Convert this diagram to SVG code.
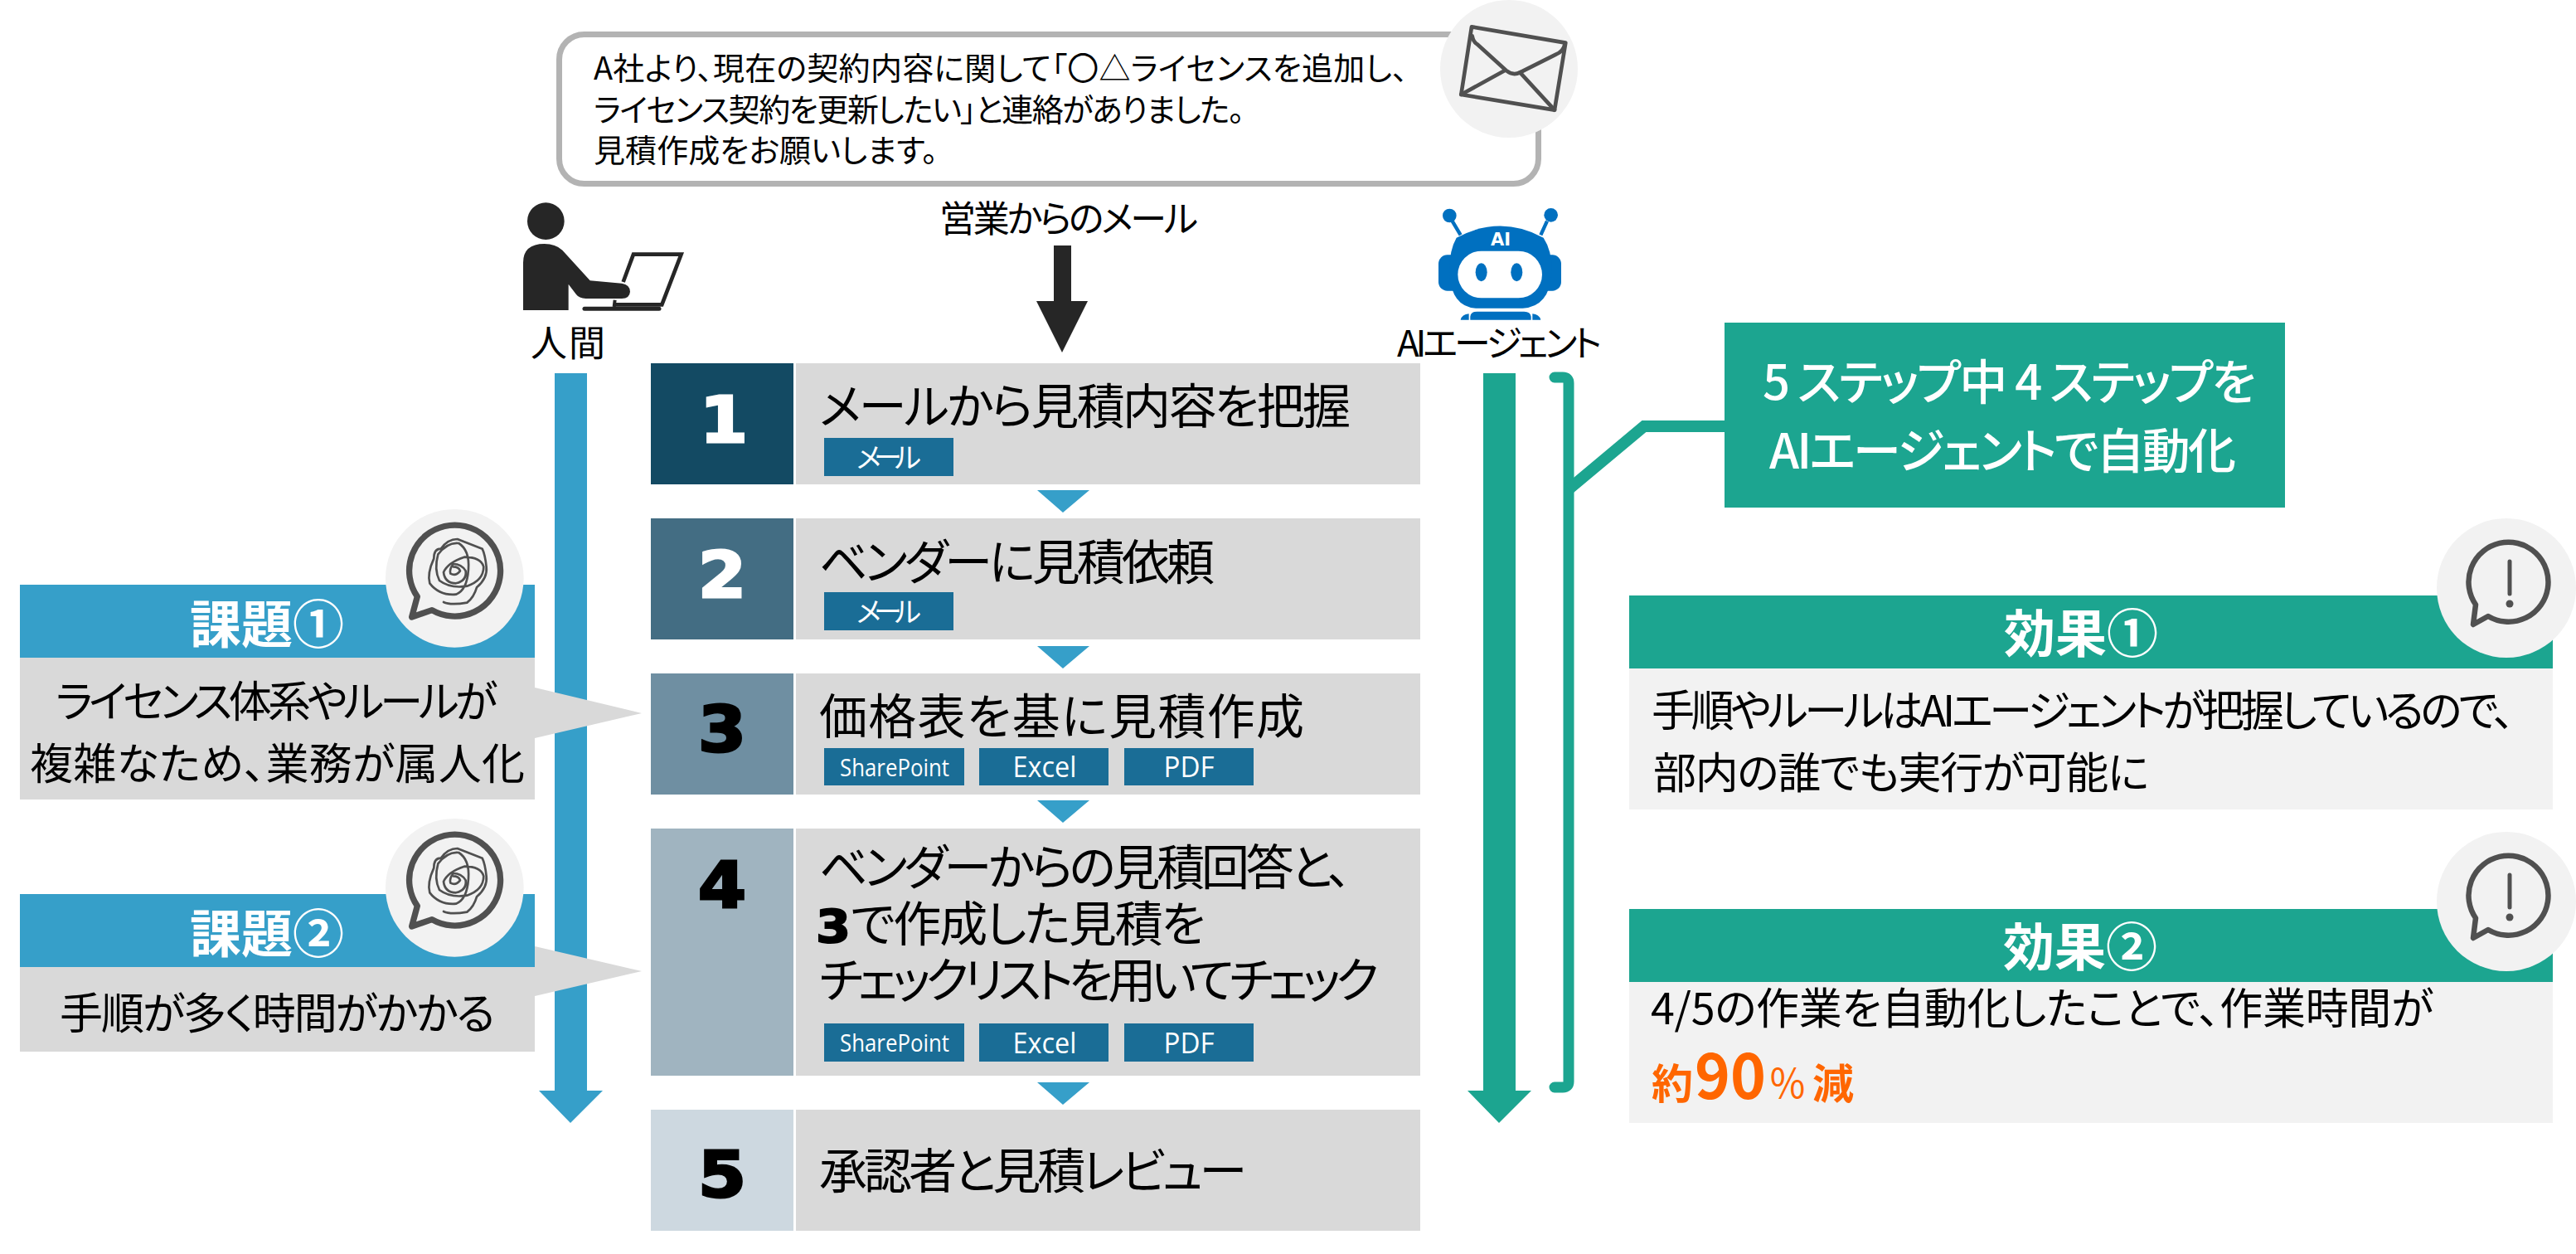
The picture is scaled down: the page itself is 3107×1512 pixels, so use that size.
<svg xmlns="http://www.w3.org/2000/svg" width="3107" height="1512" viewBox="0 0 3107 1512">
<style>
text{font-family:"Noto Sans CJK JP","Noto Sans",sans-serif;fill:#000;font-feature-settings:"palt"}
.s{font-size:58px}.e{font-size:38px}.l{font-size:44px}.p{font-size:52px}
.h{font-size:62px;font-weight:700;fill:#fff;text-anchor:middle}
.n{font-family:"DejaVu Sans","Liberation Sans",sans-serif;font-size:76px;font-weight:700;text-anchor:middle;stroke:#000;stroke-width:3}
.w{fill:#fff;stroke:#fff}
.t{font-family:"Open Sans","Noto Sans CJK JP",sans-serif;font-size:34px;fill:#fff;text-anchor:middle}
.sp{font-size:30px}
.g{fill:#d9d9d9}.lg{fill:#f2f2f2}.bl{fill:#369fc9}.gr{fill:#1ca590}.tg{fill:#1a6d96}
.ic{fill:none;stroke:#505050;stroke-linejoin:round;stroke-linecap:round}
.o{fill:#ff6600}
</style>
<defs>
<g id="scribble">
<circle cx="325" cy="232" r="250" fill="#f2f2f2"/>
<path class="ic" stroke-width="22" d="M190,298A165,165 0 1 1 243,347L170,372Z"/>
<path class="ic" stroke-width="8" d="M285,318Q310,330 370,320Q395,300 405,265Q445,230 440,190Q435,145 425,125L335,90Q300,90 275,125Q250,125 250,160Q225,215 235,250Q270,295 330,290Q370,275 375,200Q380,130 340,105Q300,100 265,145Q250,200 270,240Q310,270 370,260Q430,240 430,190Q420,155 360,155Q300,175 285,210Q290,250 330,250Q370,240 365,205Q350,180 320,180Q305,200 310,215Q330,225 345,205Q340,190 320,190"/>
</g>
<g id="exclaim">
<circle cx="0" cy="0" r="84" fill="#f2f2f2"/>
<path class="ic" stroke-width="6.500" d="M-37,20A48,48 0 1 1 -22,34L-40,44Z"/>
<path class="ic" stroke-width="5" d="M4,-32V7"/>
<circle cx="4" cy="19" r="4.500" fill="#505050"/>
</g>
</defs>
<g id="connectors">
<path class="bl" d="M669,450H708V1315H727L688,1354L650,1315H669Z"/>
<path class="gr" d="M1789,450H1828V1315H1847L1808,1354L1770,1315H1789Z"/>
<path d="M1271,296H1292V363H1312L1281,425L1250,363H1271Z" fill="#262626"/>
<path class="bl" d="M1251,591H1314L1282,618Z"/>
<path class="bl" d="M1251,779H1314L1282,806Z"/>
<path class="bl" d="M1251,965H1314L1282,992Z"/>
<path class="bl" d="M1251,1305H1314L1282,1332Z"/>
<path d="M1875,455H1885Q1892,455 1892,462V1304Q1892,1311 1885,1311H1875" fill="none" stroke="#1ca590" stroke-width="13" stroke-linecap="round"/>
<path d="M2080,514H1983L1892,590" fill="none" stroke="#1ca590" stroke-width="14"/>
</g>
<g id="mail">
<rect x="674.500" y="41.500" width="1181" height="180" rx="30" fill="#fff" stroke="#b3b3b3" stroke-width="7"/>
<text class="e" x="716" y="96" textLength="982">A社より、現在の契約内容に関して「〇△ライセンスを追加し、</text>
<text class="e" x="716" y="146" textLength="785">ライセンス契約を更新したい」と連絡がありました。</text>
<text class="e" x="716" y="195" textLength="415">見積作成をお願いします。</text>
<circle cx="1820" cy="83" r="83" fill="#f2f2f2"/>
<g class="ic" transform="translate(1720,0) scale(.3333)" stroke-width="14">
<path d="M165,97L505,155L465,398L127,342Z"/>
<path d="M167,130Q170,150 185,160L290,255Q315,275 340,262L470,197Q498,185 502,160"/>
<path d="M127,342L285,255M340,262L465,398"/>
</g>
</g>
<g id="mail-label"><text class="l" x="1133" y="280" textLength="312">営業からのメール</text></g>
<g id="human">
<g transform="translate(620,230) scale(.3333)" fill="#262626">
<circle cx="115" cy="110" r="67"/>
<path d="M33,432V260Q33,192 110,192Q150,192 175,215L275,325L390,335Q420,340 420,365Q418,390 390,390H260Q235,388 225,375L197,338V432Z"/>
<path d="M395,330L432,230H605L535,412H365" fill="none" stroke="#262626" stroke-width="14"/>
<path d="M365,395L362,420" stroke="#262626" stroke-width="12"/>
<path d="M255,427H525" stroke="#262626" stroke-width="15" stroke-linecap="round"/>
</g>
<text class="l" x="640" y="430" textLength="90">人間</text>
</g>
<g id="ai-agent">
<g transform="translate(1680,230) scale(.3333)" fill="#0070c0">
<circle cx="205" cy="90" r="25"/><circle cx="572" cy="88" r="25"/>
<path d="M215,110L245,160M558,110L535,160" stroke="#0070c0" stroke-width="13"/>
<rect x="165" y="232" width="444" height="130" rx="32"/>
<path d="M230,170Q390,85 545,170Q578,220 575,300Q565,420 470,425H300Q212,420 205,300Q202,220 230,170Z"/>
<rect x="235" y="218" width="305" height="170" rx="85" fill="#fff"/>
<ellipse cx="320" cy="295" rx="21" ry="33"/><ellipse cx="448" cy="295" rx="21" ry="33"/>
<path d="M280,467V455Q282,437 305,437H475Q498,437 500,455V467ZM245,467Q250,447 275,445V467ZM535,467Q530,447 505,445V467Z"/>
</g>
<text x="1810" y="296" text-anchor="middle" style="font-family:'DejaVu Sans',sans-serif;font-size:21px;font-weight:700;fill:#fff">AI</text>
<text class="l" x="1685" y="430" textLength="247">AIエージェント</text>
</g>
<g id="step1">
<rect x="785" y="438" width="172" height="146" fill="#134a63"/><rect class="g" x="960" y="438" width="753" height="146"/>
<text class="n w" x="873" y="533" textLength="58" lengthAdjust="spacingAndGlyphs">1</text>
<text class="s" x="988" y="511" textLength="641">メールから見積内容を把握</text>
<rect class="tg" x="994" y="528" width="156" height="46"/><text class="t" x="1072" y="564" textLength="78">メール</text>
</g>
<g id="step2">
<rect x="785" y="625" width="172" height="146" fill="#436d83"/><rect class="g" x="960" y="625" width="753" height="146"/>
<text class="n w" x="871" y="720" textLength="58" lengthAdjust="spacingAndGlyphs">2</text>
<text class="s" x="988" y="699" textLength="477">ベンダーに見積依頼</text>
<rect class="tg" x="994" y="714" width="156" height="46"/><text class="t" x="1072" y="750" textLength="78">メール</text>
</g>
<g id="step3">
<rect x="785" y="812" width="172" height="146" fill="#6f8fa2"/><rect class="g" x="960" y="812" width="753" height="146"/>
<text class="n" x="871" y="906" textLength="58" lengthAdjust="spacingAndGlyphs">3</text>
<text class="s" x="988" y="885" textLength="585">価格表を基に見積作成</text>
<rect class="tg" x="994" y="902" width="169" height="45"/><text class="t sp" x="1079" y="936" textLength="132" lengthAdjust="spacingAndGlyphs">SharePoint</text>
<rect class="tg" x="1181" y="902" width="156" height="45"/><text class="t" x="1260" y="937" textLength="77" lengthAdjust="spacingAndGlyphs">Excel</text>
<rect class="tg" x="1356" y="902" width="156" height="45"/><text class="t" x="1434" y="937" textLength="61" lengthAdjust="spacingAndGlyphs">PDF</text>
</g>
<g id="step4">
<rect x="785" y="999" width="172" height="298" fill="#a0b4c0"/><rect class="g" x="960" y="999" width="753" height="298"/>
<text class="n" x="871" y="1094" textLength="58" lengthAdjust="spacingAndGlyphs">4</text>
<text class="s" x="988" y="1067" textLength="642">ベンダーからの見積回答と、</text>
<text x="984" y="1136" style="font-family:'DejaVu Sans',sans-serif;font-size:56px;font-weight:700;stroke:#000;stroke-width:2" textLength="42" lengthAdjust="spacingAndGlyphs">3</text>
<text class="s" x="1026" y="1135" textLength="428">で作成した見積を</text>
<text class="s" x="988" y="1203" textLength="675">チェックリストを用いてチェック</text>
<rect class="tg" x="994" y="1234" width="169" height="46"/><text class="t sp" x="1079" y="1268" textLength="132" lengthAdjust="spacingAndGlyphs">SharePoint</text>
<rect class="tg" x="1181" y="1234" width="156" height="46"/><text class="t" x="1260" y="1270" textLength="77" lengthAdjust="spacingAndGlyphs">Excel</text>
<rect class="tg" x="1356" y="1234" width="156" height="46"/><text class="t" x="1434" y="1270" textLength="61" lengthAdjust="spacingAndGlyphs">PDF</text>
</g>
<g id="step5">
<rect x="785" y="1338" width="172" height="146" fill="#cdd8e0"/><rect class="g" x="960" y="1338" width="753" height="146"/>
<text class="n" x="871" y="1443" textLength="58" lengthAdjust="spacingAndGlyphs">5</text>
<text class="s" x="988" y="1433" textLength="516">承認者と見積レビュー</text>
</g>
<g id="issue1">
<rect class="bl" x="24" y="705" width="621" height="88"/>
<rect class="g" x="24" y="793" width="621" height="171"/>
<path class="g" d="M645,829L774,860L645,890Z"/>
<use href="#scribble" transform="translate(440,620) scale(.3333)"/>
<text class="h" x="322" y="776">課題①</text>
<text class="p" x="67" y="865" textLength="533">ライセンス体系やルールが</text>
<text class="p" x="36" y="940" textLength="597">複雑なため、業務が属人化</text>
</g>
<g id="issue2">
<rect class="bl" x="24" y="1078" width="621" height="88"/>
<rect class="g" x="24" y="1166" width="621" height="102"/>
<path class="g" d="M645,1141L774,1171L645,1201Z"/>
<use href="#scribble" transform="translate(440,993) scale(.3333)"/>
<text class="h" x="322" y="1149">課題②</text>
<text class="p" x="72" y="1241" textLength="525">手順が多く時間がかかる</text>
</g>
<g id="summary">
<rect class="gr" x="2080" y="389" width="676" height="223"/>
<text x="2126" y="482" textLength="595" style="font-size:58px;font-weight:500;fill:#fff">5 ステップ中 4 ステップを</text>
<text x="2134" y="565" textLength="563" style="font-size:58px;font-weight:500;fill:#fff">AIエージェントで自動化</text>
</g>
<g id="effect1">
<rect class="gr" x="1965" y="718" width="1114" height="88"/>
<rect class="lg" x="1965" y="806" width="1114" height="170"/>
<use href="#exclaim" x="3023" y="709"/>
<text class="h" x="2510" y="787">効果①</text>
<text class="p" x="1992" y="876" textLength="1041">手順やルールはAIエージェントが把握しているので、</text>
<text class="p" x="1994" y="951" textLength="598">部内の誰でも実行が可能に</text>
</g>
<g id="effect2">
<rect class="gr" x="1965" y="1096" width="1114" height="88"/>
<rect class="lg" x="1965" y="1184" width="1114" height="170"/>
<use href="#exclaim" x="3023" y="1087"/>
<text class="h" x="2509" y="1165">効果②</text>
<text class="p" x="1991" y="1235" textLength="944">4/5の作業を自動化したことで、作業時間が</text>
<text class="o" x="1992" y="1325" style="font-size:50px;font-weight:700">約</text>
<text class="o" x="2044" y="1325" style="font-size:76px;font-weight:700" textLength="86" lengthAdjust="spacingAndGlyphs">90</text>
<text class="o" x="2133" y="1325" style="font-size:50px;font-feature-settings:normal" textLength="46" lengthAdjust="spacingAndGlyphs">％</text>
<text class="o" x="2186" y="1325" style="font-size:50px;font-weight:700">減</text>
</g>
</svg>
